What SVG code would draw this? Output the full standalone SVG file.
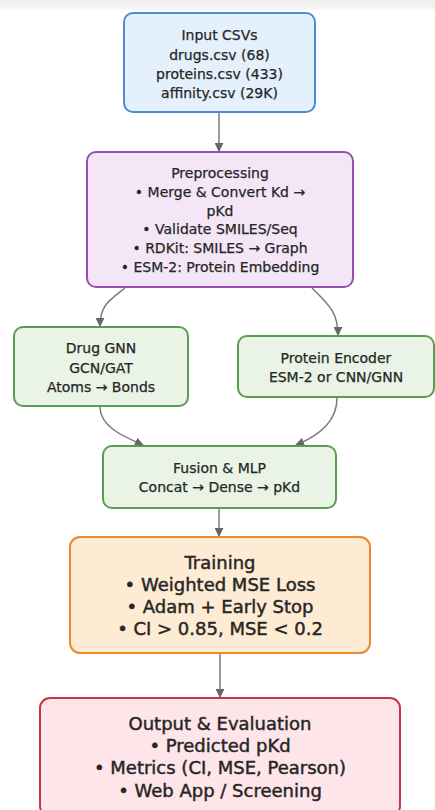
<svg xmlns="http://www.w3.org/2000/svg" width="435" height="810" viewBox="0 0 435 810">
<defs>
<linearGradient id="band" x1="0" y1="0" x2="0" y2="1">
<stop offset="0" stop-color="#eeeeee"/>
<stop offset="0.7" stop-color="#f3f3f3"/>
<stop offset="1" stop-color="#ffffff"/>
</linearGradient>
<marker id="arr" viewBox="0 0 10 10" refX="9" refY="5" markerWidth="9" markerHeight="9" markerUnits="userSpaceOnUse" orient="auto">
<path d="M0,0 L10,5 L0,10 z" fill="#666"/>
</marker>
<style>
text{font-family:"DejaVu Sans","Liberation Sans",sans-serif;fill:#262626;stroke:#262626;text-anchor:middle}
.s{font-size:14px;stroke-width:0.25}
.l{font-size:18px;stroke-width:0.45}
.box{stroke-width:2}
.blue{fill:#e4f0fb;stroke:#4a8cd6}
.purple{fill:#f4e6f7;stroke:#9a4db4}
.green{fill:#e9f3e6;stroke:#5b9c55}
.orange{fill:#fdebd3;stroke:#ea8a2e}
.red{fill:#fde5e9;stroke:#c93545}
.c{fill:none;stroke:#7a7a7a;stroke-width:1.5;marker-end:url(#arr)}
</style>
</defs>
<rect x="0" y="0" width="435" height="810" fill="#ffffff"/>
<rect x="0" y="0" width="435" height="11" fill="url(#band)"/>

<g id="connectors">
<path class="c" d="M219,112 L219,151"/>
<path class="c" d="M125,288 C110,300 100,305 100,326"/>
<path class="c" d="M312,288 C328,304 338,312 338,335"/>
<path class="c" d="M100,407 C100,426 122,436 143,445"/>
<path class="c" d="M337,398 C337,424 316,437 296,445"/>
<path class="c" d="M219,508 L219,536"/>
<path class="c" d="M220,653 L220,697"/>
</g>

<g id="input">
<rect class="box blue" x="124" y="13" width="191" height="99" rx="9"/>
<text class="s" x="219.5" y="40">Input CSVs</text>
<text class="s" x="219.5" y="60">drugs.csv (68)</text>
<text class="s" x="219.5" y="79">proteins.csv (433)</text>
<text class="s" x="219.5" y="98">affinity.csv (29K)</text>
</g>

<g id="preprocessing">
<rect class="box purple" x="87" y="152" width="266" height="135" rx="9"/>
<text class="s" x="220" y="178">Preprocessing</text>
<text class="s" x="220" y="197">• Merge &amp; Convert Kd →</text>
<text class="s" x="220" y="216">pKd</text>
<text class="s" x="220" y="234">• Validate SMILES/Seq</text>
<text class="s" x="220" y="253">• RDKit: SMILES → Graph</text>
<text class="s" x="220" y="272">• ESM-2: Protein Embedding</text>
</g>

<g id="drug-gnn">
<rect class="box green" x="14" y="327" width="174" height="79" rx="9"/>
<text class="s" x="101" y="353">Drug GNN</text>
<text class="s" x="101" y="373">GCN/GAT</text>
<text class="s" x="101" y="392">Atoms → Bonds</text>
</g>

<g id="protein-encoder">
<rect class="box green" x="238" y="336" width="196" height="61" rx="9"/>
<text class="s" x="336" y="363">Protein Encoder</text>
<text class="s" x="336" y="382">ESM-2 or CNN/GNN</text>
</g>

<g id="fusion">
<rect class="box green" x="103" y="446" width="233" height="62" rx="9"/>
<text class="s" x="219.5" y="473">Fusion &amp; MLP</text>
<text class="s" x="219.5" y="492">Concat → Dense → pKd</text>
</g>

<g id="training">
<rect class="box orange" x="70" y="537" width="300" height="116" rx="10"/>
<text class="l" x="220" y="569">Training</text>
<text class="l" x="220" y="591">• Weighted MSE Loss</text>
<text class="l" x="220" y="613">• Adam + Early Stop</text>
<text class="l" x="220" y="635">• CI &gt; 0.85, MSE &lt; 0.2</text>
</g>

<g id="output">
<rect class="box red" x="40" y="698" width="360" height="118" rx="10"/>
<text class="l" x="220" y="730">Output &amp; Evaluation</text>
<text class="l" x="220" y="752">• Predicted pKd</text>
<text class="l" x="220" y="774">• Metrics (CI, MSE, Pearson)</text>
<text class="l" x="220" y="797">• Web App / Screening</text>
</g>
</svg>
